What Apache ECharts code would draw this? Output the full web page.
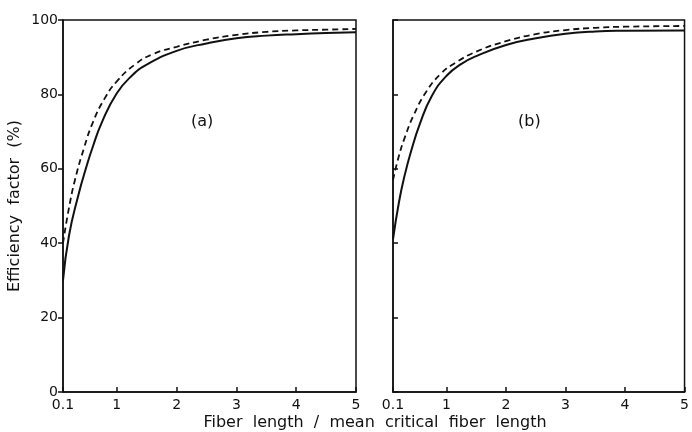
<!DOCTYPE html>
<html>
<head>
<meta charset="utf-8">
<script src="https://cdn.jsdelivr.net/npm/echarts@6/dist/echarts.min.js"></script>
<style>html,body{margin:0;padding:0;background:#fff}#c{width:692px;height:432px}</style>
</head>
<body>
<div id="c"></div>
<script>
// ---- data ----
var xTicks = [0.1, 1, 2, 3, 4, 5];
var yTicks = [0, 20, 40, 60, 80, 100];

var xSolidA = [0.1, 0.2, 0.35, 0.5, 0.6, 0.75, 1.0, 1.25, 1.5, 2, 2.5, 3, 3.5, 4, 4.5, 5];
var ySolidA = [30, 42, 52.5, 61, 66, 72.5, 80.3, 85.0, 88, 91.7, 93.7, 95.1, 95.8, 96.2, 96.5, 96.7];

var xDashA = [0.1, 0.2, 0.3, 0.45, 0.6, 0.8, 1.0, 1.3, 1.6, 2, 2.5, 3, 3.5, 4, 4.5, 5];
var yDashA = [40, 49.5, 57, 65.5, 72.5, 79, 83.5, 88, 90.8, 92.8, 94.7, 96.0, 96.8, 97.2, 97.4, 97.6];

var xSolidB = [0.1, 0.2, 0.3, 0.4, 0.55, 0.75, 1.0, 1.25, 1.5, 2, 2.5, 3, 3.5, 4, 5];
var ySolidB = [41, 51, 58.5, 64.5, 72, 79.5, 85, 88.2, 90.3, 93.3, 95.1, 96.3, 96.9, 97.1, 97.2];

var xDashB = [0.1, 0.2, 0.3, 0.45, 0.65, 0.9, 1.15, 1.5, 2, 2.5, 3, 3.5, 4, 5];
var yDashB = [57, 63.5, 68.5, 74.5, 80.5, 85.5, 88.5, 91.5, 94.3, 96.2, 97.3, 97.9, 98.2, 98.4];

var panelLabels = ['(a)', '(b)'];
var xTitle = 'Fiber  length  /  mean  critical  fiber  length';
var yTitle = 'Efficiency  factor  (%)';

function pairs(xs, ys) { return xs.map(function (x, i) { return [x, ys[i]]; }); }

var FONT = 'DejaVu Sans';
var black = '#111';

function xAxis(gi) {
  return {
    type: 'value', gridIndex: gi, min: 0.1, max: 5,
    axisLine: { show: true, lineStyle: { color: black, width: 1.5 } },
    axisTick: { show: true, inside: true, length: 5, customValues: xTicks, lineStyle: { color: black, width: 1.5 } },
    axisLabel: { customValues: xTicks, color: black, fontFamily: FONT, fontSize: 14, margin: 6,
      formatter: function (v) { return String(v); } },
    splitLine: { show: false }
  };
}
function yAxis(gi, labels) {
  return {
    type: 'value', gridIndex: gi, min: 0, max: 100, interval: 20,
    axisLine: { show: true, lineStyle: { color: black, width: 1.5 } },
    axisTick: { show: true, inside: !labels, length: 5, lineStyle: { color: black, width: 1.5 } },
    axisLabel: { show: labels, color: black, fontFamily: FONT, fontSize: 14, margin: 5 },
    splitLine: { show: false },
    name: labels ? yTitle : '', nameLocation: 'middle', nameGap: 40,
    nameTextStyle: { color: black, fontFamily: FONT, fontSize: 16 }
  };
}
function line(name, xs, ys, gi, dashed) {
  return {
    name: name, type: 'line', xAxisIndex: gi, yAxisIndex: gi,
    data: pairs(xs, ys), smooth: 0.5, showSymbol: false, symbol: 'none',
    lineStyle: { color: black, width: dashed ? 1.8 : 2, type: dashed ? [6, 4] : 'solid' },
    z: 3
  };
}

var chart = echarts.init(document.getElementById('c'), null, { renderer: 'canvas' });
chart.setOption({
  backgroundColor: '#fff',
  animation: false,
  title: [{
    text: xTitle, left: 370, top: 410, textAlign: 'center',
    textStyle: { color: black, fontFamily: FONT, fontSize: 16, fontWeight: 'normal' }
  }],
  grid: [
    { left: 63, right: 336, top: 20, bottom: 40, show: true, borderColor: black, borderWidth: 1.5, backgroundColor: 'transparent' },
    { left: 393, right: 5, top: 20, bottom: 40, show: true, borderColor: black, borderWidth: 1.5, backgroundColor: 'transparent' }
  ],
  xAxis: [xAxis(0), xAxis(1)],
  yAxis: [yAxis(0, true), yAxis(1, false)],
  graphic: [
    { type: 'text', left: 191, top: 114, style: { text: panelLabels[0], fill: black, font: '16px "DejaVu Sans"' } },
    { type: 'text', left: 518, top: 114, style: { text: panelLabels[1], fill: black, font: '16px "DejaVu Sans"' } }
  ],
  series: [
    line('solid-a', xSolidA, ySolidA, 0, false),
    line('dashed-a', xDashA, yDashA, 0, true),
    line('solid-b', xSolidB, ySolidB, 1, false),
    line('dashed-b', xDashB, yDashB, 1, true)
  ]
});
</script>
</body>
</html>
